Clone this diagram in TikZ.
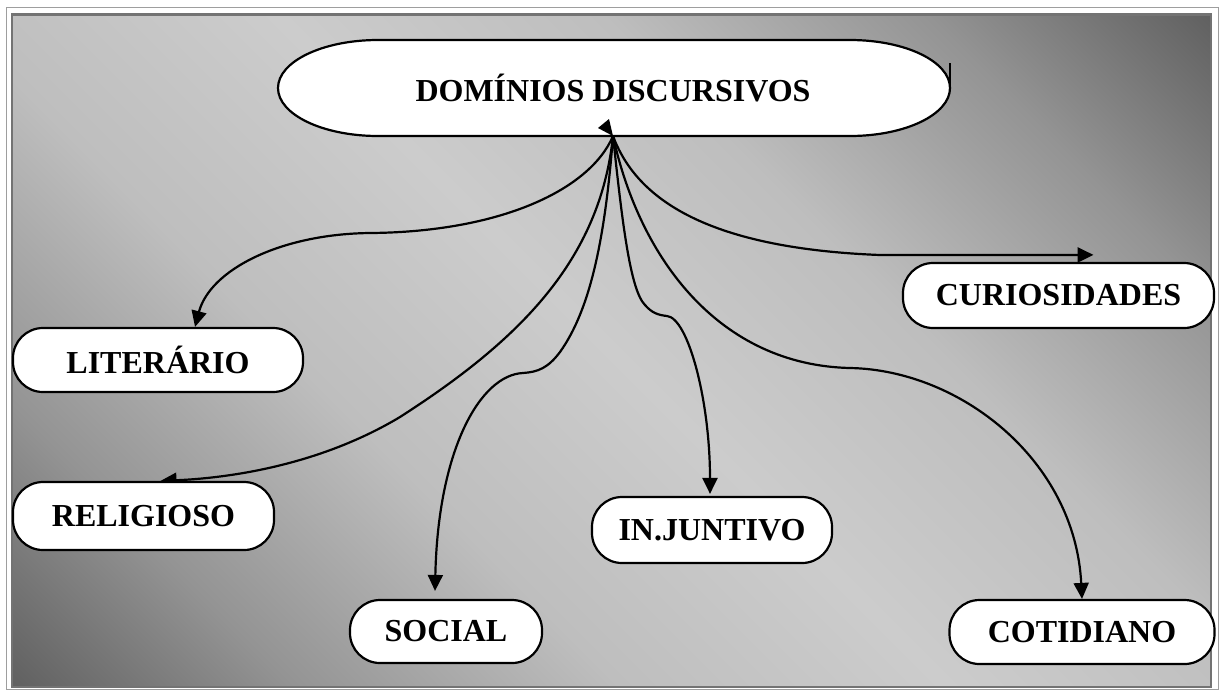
\documentclass[tikz,border=0pt]{standalone}
\usepackage{fontspec}
\setmainfont{Liberation Serif}
\usetikzlibrary{arrows.meta}
\definecolor{dk}{gray}{0.38}
\definecolor{mdA}{gray}{0.58}
\definecolor{mdB}{gray}{0.745}
\definecolor{lt}{gray}{0.80}
\definecolor{frameout}{gray}{0.62}
\definecolor{framein}{gray}{0.45}
\pgfdeclareverticalshading{diagband}{100bp}{color(0bp)=(dk); color(14.64bp)=(dk); color(25.25bp)=(mdA); color(37.6bp)=(mdB); color(50bp)=(lt); color(62.4bp)=(mdB); color(74.75bp)=(mdA); color(85.36bp)=(dk); color(100bp)=(dk)}
\pgfdeclarelayer{back}
\pgfdeclarelayer{mid}
\pgfsetlayers{back,mid,main}
\tikzset{
  pill/.style={draw=black, line width=2.2pt, fill=white, rounded corners=30pt,
    inner sep=0pt, font=\fontsize{32}{38}\selectfont\bfseries},
  conn/.style={draw=black, line width=2.2pt, -{Triangle[length=16pt,width=15pt]}},
  topshape/.style={draw=black, line width=2.2pt, fill=white},
  toptext/.style={inner sep=0pt, font=\fontsize{32}{38}\selectfont\bfseries}
}
\begin{document}
\begin{tikzpicture}[x=1pt,y=-1pt]
\useasboundingbox (0,0) rectangle (1223,689);
\begin{pgfonlayer}{back}
\fill[white] (0,0) rectangle (1223,689);
\draw[frameout, line width=1.5pt] (6.5,7.5) rectangle (1218.5,690);
\shade[shading=diagband, shading angle=-45] (12,14.5) rectangle (1211,687);
\draw[framein, line width=2.5pt] (12,14.5) rectangle (1211,687);
\end{pgfonlayer}

% top node
\draw[topshape] (378,40) -- (850,40)
  arc[start angle=-90, end angle=90, x radius=100, y radius=48]
  -- (378,136)
  arc[start angle=90, end angle=270, x radius=100, y radius=48] -- cycle;
\draw[line width=1.5pt] (950,63) -- (950,88);
\node[toptext] (dom) at (613,88) {DOMÍNIOS DISCURSIVOS};
\coordinate (o) at (613,136);

% boxes
\node[pill, minimum width=290pt, minimum height=64pt] (literario) at (158,360) {LITERÁRIO};
\node[pill, minimum width=261pt, minimum height=68pt] (religioso) at (143.5,516) {RELIGIOSO};
\node[pill, minimum width=192pt, minimum height=63pt] (social) at (446,631.5) {SOCIAL};
\node[pill, minimum width=240pt, minimum height=66pt] (injuntivo) at (712,530) {IN.JUNTIVO};
\node[pill, minimum width=311pt, minimum height=65pt] (curiosidades) at (1058.5,295.5) {CURIOSIDADES};
\node[pill, minimum width=265pt, minimum height=64pt] (cotidiano) at (1082,632) {COTIDIANO};

\begin{pgfonlayer}{mid}
\draw[conn] (o) .. controls (590,190) and (500,232) .. (370,233)
  .. controls (280,234) and (210,270) .. ([xshift=37pt]literario.north);
\draw[conn] (o) .. controls (600,260) and (520,340) .. (400,417)
  .. controls (320,465) and (230,478) .. ([xshift=17pt]religioso.north);
\draw[conn] (o) .. controls (605,240) and (590,310) .. (560,352)
  .. controls (548,368) and (538,372) .. (523,373)
  .. controls (480,375) and (438,450) .. ([xshift=-11pt,yshift=8pt]social.north);
\draw[conn] (o) .. controls (622,220) and (630,290) .. (645,305)
  .. controls (652,313) and (658,315) .. (667,316)
  .. controls (688,318) and (710,400) .. ([xshift=-2pt,yshift=2pt]injuntivo.north);
\draw[conn] (o) .. controls (640,260) and (720,365) .. (850,368)
  .. controls (960,370) and (1075,460) .. (cotidiano.north);
\draw[conn] (o) .. controls (635,195) and (700,248) .. (880,255)
  -- ([xshift=35pt,yshift=7pt]curiosidades.north);
\end{pgfonlayer}
\fill (609,119) -- (598,128) -- (613,136) -- cycle;
\end{tikzpicture}
\end{document}
